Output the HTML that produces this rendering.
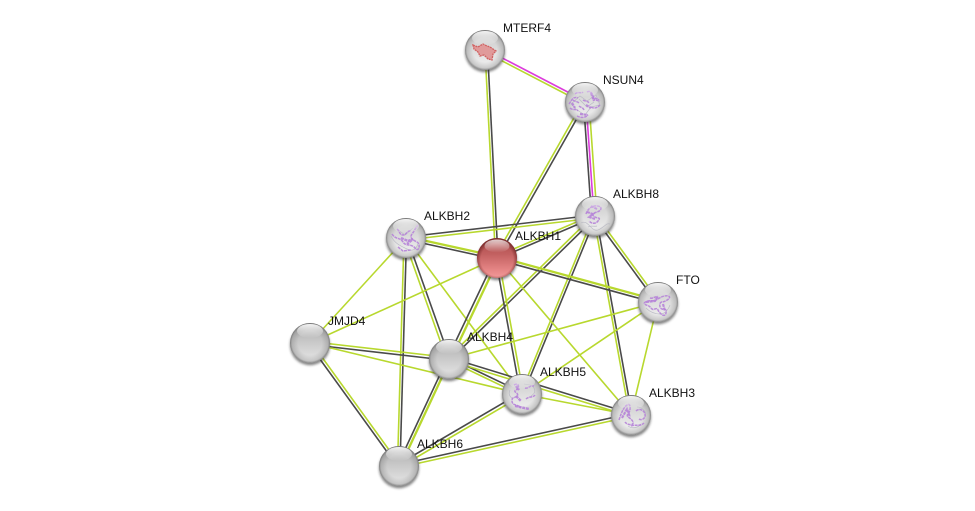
<!DOCTYPE html>
<html><head><meta charset="utf-8"><style>
html,body{margin:0;padding:0;background:#fff;width:975px;height:511px;overflow:hidden}
svg{display:block}
text{font-family:"Liberation Sans",sans-serif;font-size:12px;fill:#111}
.g{stroke:#b8d82e;stroke-width:1.6;fill:none}
.t{stroke:#b8d82e;stroke-width:2.3;fill:none}
.d{stroke:#4a4a4a;stroke-width:1.6;fill:none}
.m{stroke:#dc3cdc;stroke-width:1.6;fill:none}
.p{fill:none;stroke:#b683d8;stroke-width:1.5;opacity:.9;stroke-dasharray:3 .7}
.q{fill:none;stroke:#b4b4c0;stroke-width:.7;opacity:.85}
</style></head><body>
<svg width="975" height="511" viewBox="0 0 975 511" xmlns="http://www.w3.org/2000/svg">
<defs>
<linearGradient id="w" x1="0" y1="0" x2="0" y2="1"><stop offset="0" stop-color="#a8a8a8"/><stop offset=".3" stop-color="#d4d4d4"/><stop offset=".7" stop-color="#e6e6e6"/><stop offset="1" stop-color="#f2f2f2"/></linearGradient>
<linearGradient id="w2" x1="0" y1="0" x2="0" y2="1"><stop offset="0" stop-color="#a4a4a4"/><stop offset=".4" stop-color="#c4c4c4"/><stop offset=".8" stop-color="#dcdcdc"/><stop offset="1" stop-color="#eeeeee"/></linearGradient>
<linearGradient id="r" x1="0" y1="0" x2="0" y2="1"><stop offset="0" stop-color="#a84848"/><stop offset=".4" stop-color="#c26060"/><stop offset=".8" stop-color="#e68686"/><stop offset="1" stop-color="#f29a9a"/></linearGradient>
<radialGradient id="rim" cx="50%" cy="50%" r="50%"><stop offset=".6" stop-color="#777" stop-opacity="0"/><stop offset=".9" stop-color="#777" stop-opacity=".32"/><stop offset="1" stop-color="#555" stop-opacity=".7"/></radialGradient>
<radialGradient id="rimr" cx="50%" cy="54%" r="52%"><stop offset=".78" stop-color="#601818" stop-opacity="0"/><stop offset="1" stop-color="#601818" stop-opacity=".65"/></radialGradient>
<linearGradient id="h" x1="0" y1="0" x2="0" y2="1"><stop offset="0" stop-color="#fff" stop-opacity=".9"/><stop offset="1" stop-color="#fff" stop-opacity="0"/></linearGradient>
<filter id="b" x="-30%" y="-30%" width="160%" height="160%"><feGaussianBlur stdDeviation="1.2"/></filter>
<filter id="s" x="-20%" y="-20%" width="140%" height="140%"><feGaussianBlur stdDeviation=".3"/></filter>
<g id="shw"><circle cx="0" cy="2.2" r="20" fill="#333" opacity=".6" filter="url(#b)"/></g>
<ellipse id="hl" cx="0" cy="-12" rx="13" ry="7" fill="url(#h)"/>
<g id="ball"><use href="#shw"/><circle r="20" fill="url(#w)"/><circle r="20" fill="url(#rim)"/></g>
<g id="ballg"><use href="#shw"/><circle r="20" fill="url(#w2)"/><circle r="20" fill="url(#rim)"/><use href="#hl"/></g>
</defs>

<!-- edges -->
<line class="m" x1="485" y1="49" x2="585" y2="101"/><line class="g" x1="484" y1="51.5" x2="584" y2="103.5"/>
<line class="g" x1="485" y1="50" x2="495.5" y2="258"/><line class="d" x1="487.5" y1="50" x2="498" y2="258"/>
<line class="g" x1="583.5" y1="101" x2="495" y2="257"/><line class="d" x1="586" y1="102.5" x2="497.5" y2="258.5"/>
<line class="d" x1="583.5" y1="102" x2="591.5" y2="216"/><line class="m" x1="586" y1="102" x2="594" y2="216"/><line class="g" x1="589" y1="102" x2="597" y2="216"/>
<line class="d" x1="595" y1="215" x2="406" y2="237"/><line class="g" x1="595" y1="218" x2="406" y2="240"/>
<line class="g" x1="594" y1="214.5" x2="496" y2="256.5"/><line class="d" x1="595" y1="217" x2="497" y2="259"/>
<line class="d" x1="594" y1="217" x2="657" y2="303"/><line class="g" x1="596" y1="215" x2="659" y2="301"/>
<line class="g" x1="594" y1="215" x2="448" y2="358"/><line class="d" x1="596" y1="217" x2="450" y2="360"/>
<line class="g" x1="593.5" y1="216" x2="520.5" y2="394"/><line class="d" x1="596" y1="216.5" x2="523" y2="394.5"/>
<line class="g" x1="593.5" y1="216" x2="629.5" y2="415"/><line class="d" x1="596" y1="216" x2="632" y2="415"/>
<line class="t" x1="406" y1="236.5" x2="497" y2="256.5"/><line class="d" x1="406" y1="239.5" x2="497" y2="259.5"/>
<line class="g" x1="406" y1="238" x2="310" y2="343"/>
<line class="g" x1="404" y1="239" x2="447" y2="360"/><line class="d" x1="407" y1="238" x2="450" y2="359"/>
<line class="g" x1="406" y1="238" x2="522" y2="394"/>
<line class="g" x1="404" y1="238" x2="397.5" y2="466"/><line class="d" x1="406.5" y1="238" x2="400" y2="466"/>
<line class="t" x1="497" y1="256.5" x2="658" y2="300.5"/><line class="d" x1="497" y1="259.5" x2="658" y2="303.5"/>
<line class="g" x1="497" y1="258" x2="310" y2="343"/>
<line class="d" x1="495.5" y1="257.5" x2="447.5" y2="358.5"/><line class="t" x1="498.5" y1="259" x2="450.5" y2="360"/>
<line class="d" x1="495.5" y1="258" x2="520.5" y2="394"/><line class="g" x1="498.5" y1="258" x2="523.5" y2="394"/>
<line class="g" x1="497" y1="258" x2="631" y2="415"/>
<line class="g" x1="658" y1="302" x2="449" y2="359"/>
<line class="g" x1="658" y1="302" x2="522" y2="394"/>
<line class="g" x1="658" y1="302" x2="631" y2="415"/>
<line class="g" x1="310" y1="341.5" x2="449" y2="357.5"/><line class="d" x1="310" y1="344.5" x2="449" y2="360.5"/>
<line class="g" x1="310" y1="343" x2="522" y2="394"/>
<line class="d" x1="309" y1="344" x2="398" y2="467"/><line class="g" x1="311" y1="342" x2="400" y2="465"/>
<line class="d" x1="449" y1="357.5" x2="522" y2="392.5"/><line class="g" x1="449" y1="360.5" x2="522" y2="395.5"/>
<line class="d" x1="449" y1="357.5" x2="631" y2="413.5"/><line class="g" x1="449" y1="360.5" x2="631" y2="416.5"/>
<line class="d" x1="447.5" y1="358.5" x2="397.5" y2="465.5"/><line class="t" x1="450" y1="360" x2="400" y2="467"/>
<line class="g" x1="522" y1="394" x2="631" y2="415"/>
<line class="d" x1="521" y1="392.5" x2="398" y2="464.5"/><line class="g" x1="523" y1="395" x2="400" y2="467"/>
<line class="d" x1="631" y1="413.5" x2="399" y2="464.5"/><line class="g" x1="631" y1="416.5" x2="399" y2="467.5"/>

<!-- nodes -->
<g transform="translate(485,50)"><use href="#ball"/>
<g filter="url(#s)"><path d="M-12-5l5 2 5-3 4 2 3 1 6 4-3 3-1 6-4-1-4-4-4 1-2-4-4-3z" fill="#e09a9a" stroke="#d06060" stroke-width="1.3" stroke-dasharray="2 .7"/></g><use href="#hl"/></g>

<g transform="translate(585,102)"><use href="#ball"/>
<g filter="url(#s)"><path class="q" d="M-14 2l9-8 7 5 9-6 4 10-9 2-6 8-8-5z M-6-3l8 8 7-5"/>
<path class="p" d="M-16 2c3-4 4-8 9-6M-10-8c3-3 6 0 8-2M2-10c3-2 5 1 6 4s4 2 6 4M-15 6c3 3 6 0 8 3M-8 14c4 2 8 2 11-1M-2-2c3 2 4 0 6 3M6 5c3 2 6 1 9-2M-6 4c2 2 4 1 5 4M8-4c2 3 4 2 7 3M-12-2c2 2 4 1 6 3"/>
<path class="p" style="stroke-width:2.2" d="M6-9l3 8M-13 1l3 5M-5 12l8 1M1 3l5 3"/></g><use href="#hl"/></g>

<g transform="translate(595,216)"><use href="#ball"/>
<g filter="url(#s)"><path class="q" d="M-14 7c5-3 8 3 12 6s7 0 10-2 4-4 7-3M-7 11c3-2 6 0 9-1"/>
<path class="p" d="M-9-2c2-6 7-9 12-8s3 5-1 6-6 3-2 5 6 0 3 4-7 2-9 0"/><path class="p" style="stroke-width:2" d="M-8-4l6 2-4 3 6 2M-4-10l6 3"/></g><use href="#hl"/></g>

<g transform="translate(406,238)"><use href="#ball"/>
<g filter="url(#s)"><path class="q" d="M-15-2c4 8 10 10 16 13s9 0 11-5M-9-9l8 6 8-7"/>
<path class="p" d="M-14-4c4 6 8 3 11 8s8 1 12 6 6-4 2-6-8-4-5-8 4-7 6-9M-9-9c3 2 2 6 6 6s4-5 8-4M-8 9l5 4 8-1"/><path class="p" style="stroke-width:2.4" d="M-5 0l7 3 5-2-6 5"/></g><use href="#hl"/></g>

<g transform="translate(497,258)"><use href="#shw"/><circle r="20" fill="url(#r)"/><circle r="20" fill="url(#rimr)"/>
<ellipse cx="0" cy="-12" rx="12.5" ry="6.5" fill="url(#h)" opacity=".85"/></g>

<g transform="translate(658,302)"><use href="#ball"/>
<g filter="url(#s)"><path class="q" d="M-12 6c4 4 9 6 14 6s8-4 10-9"/>
<path class="p" d="M-14 1c5-4 8-1 12-3s7-5 12-4-3 6-6 6-3 6 0 7 5-1 4 4-6 1-8-3-4 2-7-2-4-1-7-5M-8-4c3 1 5-2 8-1"/><path class="p" style="stroke-width:2.2" d="M-12 0l9-1 3-5M5 2l2 7"/></g><use href="#hl"/></g>

<use href="#ballg" x="310" y="343"/>
<use href="#ballg" x="449" y="359"/>

<g transform="translate(522,394)"><use href="#ball"/>
<g filter="url(#s)"><path class="q" d="M2-10c4 1 8 0 10 4s0 6-3 8M-12-4c-2 4 0 7 3 9"/>
<path class="p" d="M-8-9c5-3 6 3 2 5s4 3 1 6-5 0-5 5 6 3 9 7M3-6c3 1 5-3 9-2M4 5c3-3 7-1 9-4"/><path class="p" style="stroke-width:2.4" d="M-7 12l14 3M-6 2l5 5M-6-8l3 4"/></g><use href="#hl"/></g>

<g transform="translate(631,415)"><use href="#ball"/>
<g filter="url(#s)"><path class="q" d="M-3 11c4 3 10 2 13-2M6-8c4 0 8 3 9 7"/>
<path class="p" d="M-12 5c2-6 4-12 8-15s4 6 1 9 4 4 5 8-6 3-8 0M5-4c3-3 8-1 9 3s-3 7-6 5M0 11c4-2 9 1 13-3"/><path class="p" style="stroke-width:2.1" d="M-9 3l5-9 3 8"/></g><use href="#hl"/></g>

<use href="#ballg" x="399" y="466"/>

<!-- labels -->
<text x="503" y="32">MTERF4</text>
<text x="603" y="84">NSUN4</text>
<text x="613" y="198">ALKBH8</text>
<text x="424" y="220">ALKBH2</text>
<text x="515" y="240">ALKBH1</text>
<text x="676" y="284">FTO</text>
<text x="328" y="325">JMJD4</text>
<text x="467" y="341">ALKBH4</text>
<text x="540" y="376">ALKBH5</text>
<text x="649" y="397">ALKBH3</text>
<text x="417" y="448">ALKBH6</text>
</svg>
</body></html>
